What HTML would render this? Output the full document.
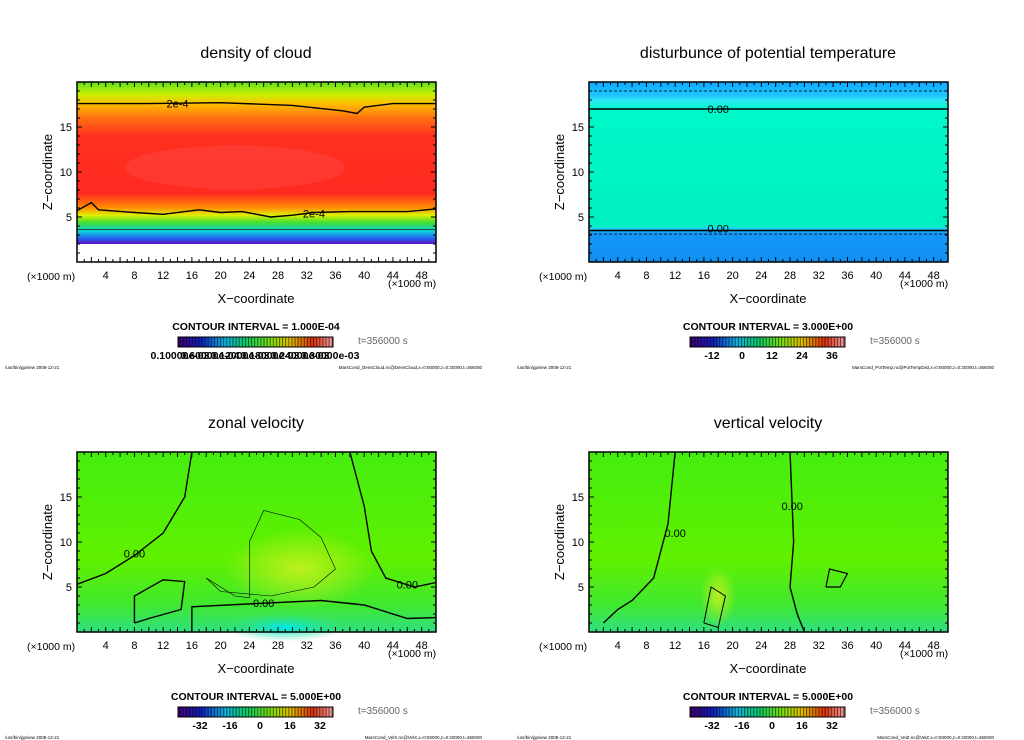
<!DOCTYPE html>
<html><head><meta charset="utf-8"><style>
html,body{margin:0;padding:0;background:#fff;}
svg{display:block;font-family:"Liberation Sans",sans-serif;}
</style></head><body>
<svg id="fig" width="1024" height="740" viewBox="0 0 1024 740" xmlns="http://www.w3.org/2000/svg">
<defs>
 <linearGradient id="g-dens" x1="0" y1="0" x2="0" y2="1">
  <stop offset="0" stop-color="#60e020"/><stop offset="0.07" stop-color="#c8f000"/>
  <stop offset="0.12" stop-color="#ffc000"/><stop offset="0.2" stop-color="#ff7010"/>
  <stop offset="0.3" stop-color="#ff3020"/><stop offset="0.62" stop-color="#ff2a20"/>
  <stop offset="0.7" stop-color="#ff9000"/><stop offset="0.74" stop-color="#e0f000"/>
  <stop offset="0.78" stop-color="#40e030"/><stop offset="0.83" stop-color="#10d0e0"/>
  <stop offset="0.87" stop-color="#2060f0"/><stop offset="0.9" stop-color="#6010c0"/>
  <stop offset="0.9" stop-color="#ffffff"/><stop offset="1" stop-color="#ffffff"/>
 </linearGradient>
 <linearGradient id="g-temp" x1="0" y1="0" x2="0" y2="1">
  <stop offset="0" stop-color="#10a8ff"/><stop offset="0.08" stop-color="#20c8ff"/>
  <stop offset="0.1" stop-color="#30e8f8"/><stop offset="0.15" stop-color="#00f8c8"/>
  <stop offset="0.8" stop-color="#00f0c0"/><stop offset="0.81" stop-color="#20d8f0"/>
  <stop offset="0.84" stop-color="#1498f8"/><stop offset="1" stop-color="#1090f0"/>
 </linearGradient>
 <linearGradient id="g-vel" x1="0" y1="0" x2="0" y2="1">
  <stop offset="0" stop-color="#44ee10"/><stop offset="0.6" stop-color="#60f000"/>
  <stop offset="0.85" stop-color="#40e830"/><stop offset="1" stop-color="#30e080"/>
 </linearGradient>
 <linearGradient id="g-cbar" x1="0" y1="0" x2="1" y2="0">
  <stop offset="0" stop-color="#400070"/><stop offset="0.15" stop-color="#1020c0"/>
  <stop offset="0.3" stop-color="#10b0e0"/><stop offset="0.45" stop-color="#10d060"/>
  <stop offset="0.6" stop-color="#80e010"/><stop offset="0.72" stop-color="#e0c000"/>
  <stop offset="0.87" stop-color="#e03010"/><stop offset="1" stop-color="#f0a0a0"/>
 </linearGradient>
 <pattern id="p-stripe" width="3.1" height="10" patternUnits="userSpaceOnUse">
  <rect x="0" y="0" width="1" height="10" fill="#000" opacity="0.55"/>
 </pattern>
 <radialGradient id="g-blob" cx="0.5" cy="0.5" r="0.5">
  <stop offset="0" stop-color="#c8f020" stop-opacity="0.9"/><stop offset="1" stop-color="#c8f020" stop-opacity="0"/>
 </radialGradient>
 <radialGradient id="g-cyan" cx="0.5" cy="0.5" r="0.5">
  <stop offset="0" stop-color="#00e8f0"/><stop offset="1" stop-color="#30e090" stop-opacity="0"/>
 </radialGradient>
</defs>
<g id="root"></g>
</svg>
<script>
// ---- data ----
const xTicks = [4,8,12,16,20,24,28,32,36,40,44,48];
const zTicks = [5,10,15];
const titles = ["density of cloud","disturbunce of potential temperature","zonal velocity","vertical velocity"];
const intervals = ["1.000E-04","3.000E+00","5.000E+00","5.000E+00"];
const cbarLabels0 = ["0.10000e-03","0.60000e-04","0.12000e-03","0.18000e-03","0.24000e-03","0.30000e-03"];
const cbarLabels1 = ["-12","0","12","24","36"];
const cbarLabels2 = ["-32","-16","0","16","32"];
const footRight = ["MarsCond_DensCloud.nc@DensCloud,x=0:50000,z=0:20000,t=366000",
 "MarsCond_PotTemp.nc@PotTempDist,x=0:50000,z=0:20000,t=366000",
 "MarsCond_VelX.nc@VelX,x=0:50000,z=0:20000,t=366000",
 "MarsCond_VelZ.nc@VelZ,x=0:50000,z=0:20000,t=366000"];
// contour lines [x km, z km]
const densTop = [[0,17.6],[10,17.6],[20,17.7],[30,17.4],[37,16.8],[39,16.5],[40,17.2],[44,17.6],[50,17.6]];
const densBot = [[0,5.7],[2,6.6],[3,5.8],[8,5.5],[12,5.3],[17,5.8],[20,5.5],[23,5.6],[27,5.0],[30,5.2],[33,5.5],[38,5.6],[46,5.6],[50,5.9]];
const tempTop = [[0,17],[50,17]];
const tempBot = [[0,3.5],[50,3.5]];
const velxA = [[0,5.3],[4,6.5],[8,8.5],[12,11],[15,15],[16,20]];
const velxB = [[38,20],[40,14],[41,9],[43,6],[47,5],[50,5.5]];
const velxC = [[16,0],[16,2.8],[26,3.2],[34,3.5],[40,3],[46,1.5],[50,1.6]];
const velxD = [[8,1],[8,4],[12,5.8],[15,5.6],[14.5,2.5],[10,1.5],[8,1]];
const velzA = [[12,20],[11,12],[9,6],[6,3.5],[4,2.5],[2,1]];
const velzB = [[28,20],[28.5,10],[28,5],[29,2],[30,0]];

const NS="http://www.w3.org/2000/svg";
const root=document.getElementById('root');
function el(tag,attrs,parent,text){const e=document.createElementNS(NS,tag);for(const k in attrs)e.setAttribute(k,attrs[k]);if(text!==undefined)e.textContent=text;(parent||root).appendChild(e);return e;}

function panel(i,ox,oy,fill,lines,cbarLabels){
 const X0=ox+77,X1=ox+436,Y0=oy+82,Y1=oy+262;
 const sx=v=>X0+(v/50)*(X1-X0), sy=v=>Y1-(v/20)*(Y1-Y0);
 const g=el('g',{});
 
 
 const t=el('text',{x:ox+256,y:oy+58,'text-anchor':'middle','font-size':16,fill:'#000'},g,titles[i]);
 
 
 const r=el('rect',{x:X0,y:Y0,width:X1-X0,height:Y1-Y0,fill:fill},g);
 
 
 if(i===0){el('ellipse',{cx:sx(22),cy:sy(10.5),rx:110,ry:22,fill:'#ff5050',opacity:0.35},g);}
 if(i===2){el('ellipse',{cx:sx(31),cy:sy(7),rx:75,ry:40,fill:'url(#g-blob)'},g);
  el('ellipse',{cx:sx(29),cy:sy(0.5),rx:60,ry:14,fill:'url(#g-cyan)'},g);}
 if(i===3){el('ellipse',{cx:sx(18),cy:sy(4),rx:18,ry:30,fill:'url(#g-blob)'},g);}
 lines.forEach(L=>{
  const p=el('polyline',{points:L.d.map(q=>sx(q[0])+','+sy(q[1])).join(' '),fill:'none',stroke:'#000','stroke-width':L.w||1.4,'stroke-dasharray':L.dash||'none'},g);
  
  
  if(L.label){const lb=el('text',{x:sx(L.lx),y:sy(L.ly)+4,'text-anchor':'middle','font-size':11,fill:'#000'},g,L.label);
   
   }
 });
 el('rect',{x:X0,y:Y0,width:X1-X0,height:Y1-Y0,fill:'none',stroke:'#000','stroke-width':1.5},g);
 for(let v=1;v<50;v++){const x=sx(v),len=v%2?3:5;
  el('line',{x1:x,y1:Y1,x2:x,y2:Y1-len,stroke:'#000'},g);el('line',{x1:x,y1:Y0,x2:x,y2:Y0+len,stroke:'#000'},g);}
 for(let v=1;v<20;v++){const y=sy(v),len=v%5?3:5;
  el('line',{x1:X0,y1:y,x2:X0+len,y2:y,stroke:'#000'},g);el('line',{x1:X1,y1:y,x2:X1-len,y2:y,stroke:'#000'},g);}
 xTicks.forEach(v=>{const tt=el('text',{x:sx(v),y:Y1+17,'text-anchor':'middle','font-size':11},g,String(v));
  });
 zTicks.forEach(v=>{const tt=el('text',{x:X0-5,y:sy(v)+4,'text-anchor':'end','font-size':11},g,String(v));
  });
 el('text',{x:ox+27,y:Y1+18,'font-size':10.5},g,'(\u00d71000 m)');
 el('text',{x:ox+388,y:Y1+25,'font-size':10.5},g,'(\u00d71000 m)');
 const yl=el('text',{x:ox+52,y:oy+172,'text-anchor':'middle','font-size':13,transform:`rotate(-90 ${ox+52} ${oy+172})`},g,'Z\u2212coordinate');
 
 const xl=el('text',{x:ox+256,y:oy+303,'text-anchor':'middle','font-size':13},g,'X\u2212coordinate');
 
 el('text',{x:ox+256,y:oy+330,'text-anchor':'middle','font-size':10.5,'font-weight':'bold'},g,'CONTOUR INTERVAL = '+intervals[i]);
 const cb=el('rect',{x:ox+178,y:oy+337,width:155,height:10,fill:'url(#g-cbar)',stroke:'#000','stroke-width':1},g);
 
 el('rect',{x:ox+178,y:oy+337,width:155,height:10,fill:'url(#p-stripe)'},g);
 el('text',{x:ox+358,y:oy+344,'font-size':10,fill:'#666'},g,'t=356000 s');
 const n=cbarLabels.length;
 cbarLabels.forEach((s,k)=>{const x=i===0?ox+180+k*30:ox+200+k*(120/(n-1));
  el('text',{x:x,y:oy+359,'text-anchor':'middle','font-size':10.5,'font-weight':'bold'},g,s);});
 el('text',{x:ox+5,y:oy+369,'font-size':4.5},g,'/usr/bin/gpview   2008-12-21');
 el('text',{x:ox+482,y:oy+369,'text-anchor':'end','font-size':4.5},g,footRight[i]);
}

panel(0,0,0,'url(#g-dens)',[
 {d:densTop,label:'2e-4',lx:14,ly:17.6},
 {d:densBot,label:'2e-4',lx:33,ly:5.4},
 {d:[[0,3.6],[50,3.6]],w:0.6}],cbarLabels0);
panel(1,512,0,'url(#g-temp)',[
 {d:tempTop,label:'0.00',lx:18,ly:17},
 {d:[[0,19],[50,19]],w:0.8,dash:'3,2'},
 {d:tempBot,label:'0.00',lx:18,ly:3.7},
 {d:[[0,3.1],[50,3.1]],w:0.8,dash:'3,2'}],cbarLabels1);
panel(2,0,370,'url(#g-vel)',[
 {d:velxA,label:'0.00',lx:8,ly:8.7},
 {d:velxB,label:'0.00',lx:46,ly:5.3},
 {d:velxC,label:'0.00',lx:26,ly:3.2},
 {d:velxD},
 {d:[[18,6],[22,4],[24,3.8],[24,10],[26,13.5],[31,12.5],[34,10.5],[36,7],[33,5],[27,4],[20,4.5],[18,6]],w:0.6}],cbarLabels2);
panel(3,512,370,'url(#g-vel)',[
 {d:velzA,label:'0.00',lx:12,ly:11},
 {d:velzB,label:'0.00',lx:28.3,ly:14},
 {d:[[16,1],[17,5],[19,4],[18,0.5],[16,1]],w:1},
 {d:[[33,5],[33.5,7],[36,6.5],[35,5],[33,5]],w:1.2}],cbarLabels2);
</script>
</body></html>
